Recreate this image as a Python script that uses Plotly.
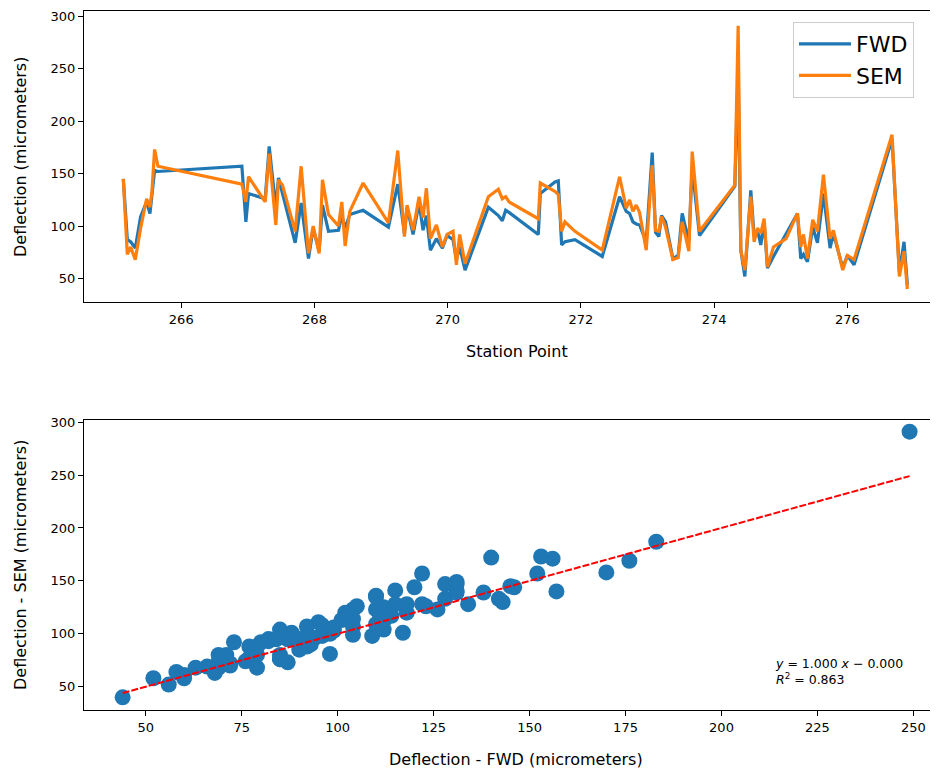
import plotly.graph_objects as go

# ---- data ----
station = [265.13, 265.19, 265.24, 265.31, 265.39, 265.48, 265.53, 265.56, 265.60, 265.65,
           266.91, 266.97, 267.01, 267.26, 267.32, 267.42, 267.46, 267.52, 267.71, 267.80,
           267.91, 267.98, 268.07, 268.12, 268.21, 268.36, 268.41, 268.46, 268.53, 268.73,
           269.11, 269.25, 269.35, 269.39, 269.48, 269.57, 269.63, 269.68, 269.74, 269.83,
           269.92, 269.99, 270.08, 270.13, 270.18, 270.26, 270.61, 270.76, 270.82, 270.87,
           270.92, 271.36, 271.39, 271.61, 271.66, 271.71, 271.76, 271.91, 272.32, 272.58,
           272.68, 272.73, 272.78, 272.83, 272.88, 272.98, 273.07, 273.12, 273.17, 273.21,
           273.27, 273.38, 273.46, 273.52, 273.62, 273.67, 273.78, 274.31, 274.36, 274.40,
           274.46, 274.55, 274.60, 274.65, 274.70, 274.75, 274.80, 274.89, 275.08, 275.25,
           275.30, 275.34, 275.40, 275.48, 275.55, 275.64, 275.74, 275.79, 275.93, 276.00,
           276.10, 276.67, 276.78, 276.85, 276.90]
fwd = [145, 87, 85, 79, 109, 123, 112, 128, 153, 152,
       157, 104, 131, 126, 176, 117, 146, 131, 84, 122,
       69, 98, 76, 120, 95, 96, 110, 98, 111, 115,
       99, 140, 93, 118, 92, 122, 96, 110, 77, 88,
       79, 91, 87, 68, 80, 58, 118, 110, 105, 115,
       113, 92, 131, 142, 143, 82, 85, 87, 71, 128,
       114, 112, 104, 102, 101, 85, 170, 94, 90, 110,
       104, 69, 72, 112, 85, 156, 91, 138, 249, 77,
       52, 134, 90, 96, 82, 104, 60, 71, 92, 112,
       69, 73, 66, 99, 84, 131, 79, 93, 60, 72,
       63, 183, 56, 85, 44]
sem = [145, 73, 80, 68, 98, 126, 118, 133, 173, 157,
       140, 123, 147, 123, 169, 101, 144, 139, 95, 157,
       74, 100, 74, 144, 111, 100, 123, 81, 114, 141,
       103, 172, 90, 120, 96, 128, 108, 136, 88, 101,
       80, 92, 95, 63, 92, 64, 128, 135, 126, 128,
       123, 107, 141, 133, 130, 95, 104, 95, 77, 147,
       117, 125, 114, 120, 113, 77, 158, 96, 95, 109,
       99, 68, 70, 104, 76, 171, 95, 139, 291, 77,
       58, 128, 85, 98, 93, 107, 61, 80, 88, 112,
       80, 92, 69, 106, 95, 149, 88, 96, 58, 72,
       68, 187, 52, 76, 40]

fit_slope = 1.000
fit_intercept = -0.000
fit_r2 = 0.863

top_xticks = [266, 268, 270, 272, 274, 276]
top_yticks = [50, 100, 150, 200, 250, 300]
bot_xticks = [50, 75, 100, 125, 150, 175, 200, 225, 250]
bot_yticks = [50, 100, 150, 200, 250, 300]

BLUE = "#1f77b4"
ORANGE = "#ff7f0e"
FONT = "DejaVu Sans"
OFF = 8                       # page body margin of the browser
W, H = 938 - OFF, 771 - OFF   # figure sized to fit the window after that margin

fig = go.Figure()
fig.add_trace(go.Scatter(x=station, y=fwd, mode="lines", name="FWD",
                         line=dict(color=BLUE, width=3.2), xaxis="x", yaxis="y"))
fig.add_trace(go.Scatter(x=station, y=sem, mode="lines", name="SEM",
                         line=dict(color=ORANGE, width=3.2), xaxis="x", yaxis="y"))

fig.add_trace(go.Scatter(x=fwd, y=sem, mode="markers", showlegend=False,
                         marker=dict(color=BLUE, size=16, line=dict(width=0)),
                         xaxis="x2", yaxis="y2"))
x_lo, x_hi = min(fwd), max(fwd)
fig.add_trace(go.Scatter(x=[x_lo, x_hi],
                         y=[fit_slope * x_lo + fit_intercept, fit_slope * x_hi + fit_intercept],
                         mode="lines", showlegend=False,
                         line=dict(color="red", width=2, dash="7px,2px"),
                         xaxis="x2", yaxis="y2"))

def px_x(p):
    return (p - OFF) / W

def px_y(p):
    return 1 - (p - OFF) / H

axis_common = dict(showline=True, linecolor="black", linewidth=1.3, ticks="outside",
                   ticklen=5, tickwidth=1.3, tickcolor="black", showgrid=False,
                   zeroline=False, automargin=False,
                   tickfont=dict(family=FONT, size=13, color="black"))

fig.update_layout(
    template="none",
    width=W, height=H,
    margin=dict(l=0, r=0, t=0, b=0, pad=0, autoexpand=False),
    paper_bgcolor="white", plot_bgcolor="white",
    font=dict(family=FONT, color="black"),
    xaxis=dict(domain=[px_x(84), 1.0], range=[264.54, 277.36], tickvals=top_xticks,
               mirror=True, anchor="y", **axis_common),
    yaxis=dict(domain=[px_y(302), px_y(11)], range=[27.6, 305], tickvals=top_yticks,
               anchor="x", **axis_common),
    xaxis2=dict(domain=[px_x(84), 1.0], range=[33.93, 256.4], tickvals=bot_xticks,
                mirror=True, anchor="y2", **axis_common),
    yaxis2=dict(domain=[px_y(710), px_y(420)], range=[28, 302], tickvals=bot_yticks,
                anchor="x2", **axis_common),
    legend=dict(x=px_x(793), y=px_y(22), xanchor="left", yanchor="top",
                bordercolor="#cccccc", borderwidth=1, bgcolor="rgba(255,255,255,0.8)",
                font=dict(family=FONT, size=22, color="black"), tracegroupgap=0,
                itemwidth=52),
    showlegend=True,
)

ann = [
    dict(text="Station Point", x=px_x(517), y=px_y(351), font_size=16),
    dict(text="Deflection (micrometers)", x=px_x(20), y=px_y(157), font_size=16, textangle=-90),
    dict(text="Deflection - FWD (micrometers)", x=px_x(516), y=px_y(759), font_size=16),
    dict(text="Deflection - SEM (micrometers)", x=px_x(20), y=px_y(565), font_size=16, textangle=-90),
]
for a in ann:
    fig.add_annotation(xref="paper", yref="paper", showarrow=False,
                       xanchor="center", yanchor="middle",
                       font=dict(family=FONT, size=a.pop("font_size"), color="black"), **a)

fig.add_annotation(xref="paper", yref="paper", x=px_x(773), y=px_y(671),
                   xanchor="left", yanchor="middle", align="left", showarrow=False,
                   text=f"<i>y</i> = {fit_slope:.3f} <i>x</i> \u2212 {abs(fit_intercept):.3f}<br>"
                        f"<i>R</i><sup>2</sup> = {fit_r2:.3f}",
                   font=dict(family=FONT, size=12.5, color="black"))

fig.write_html("out.html")
